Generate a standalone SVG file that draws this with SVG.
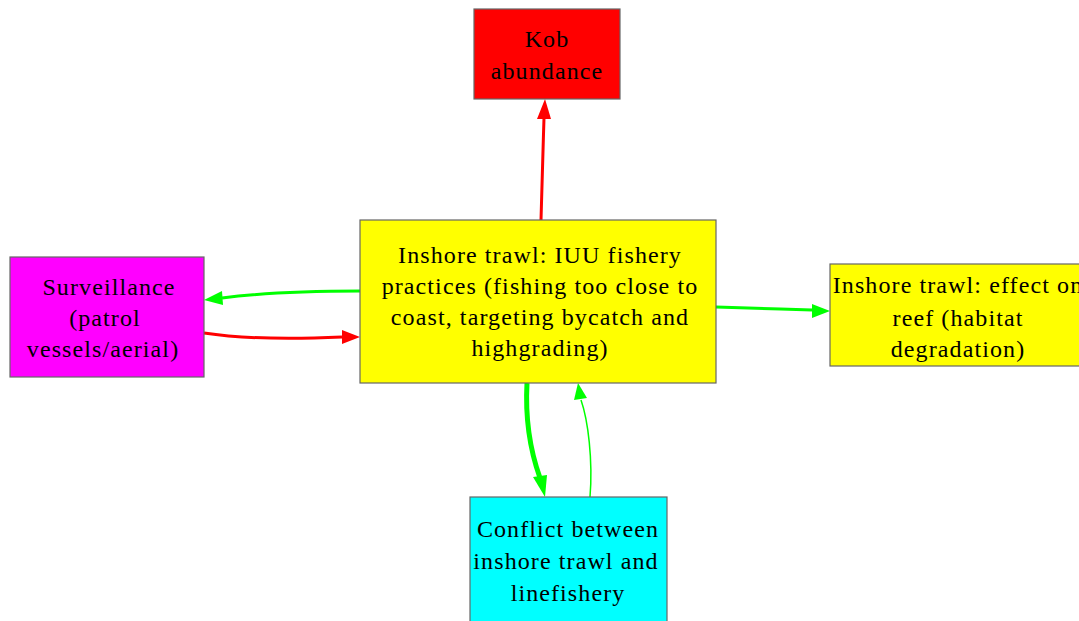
<svg xmlns="http://www.w3.org/2000/svg" width="1079" height="621" viewBox="0 0 1079 621">
<style>
.n{stroke:#666;stroke-width:1.2}
.t{font-family:"Liberation Serif","Times New Roman",serif;font-size:24px;letter-spacing:1.1px;text-anchor:middle;fill:#000}
.e{fill:none}
</style>
<rect width="1079" height="621" fill="#fff"/>
<g id="connectors">
<path class="e" d="M541,220 C542,180 543,150 544,118" stroke="#ff0000" stroke-width="3"/>
<polygon points="545,99 537,119 551,119" fill="#ff0000"/>
<path class="e" d="M360,291 C310,291 260,293 222,298" stroke="#00ff00" stroke-width="3"/>
<polygon points="204,300 222,291 223,305" fill="#00ff00"/>
<path class="e" d="M204,333 C250,340 300,339 342,337" stroke="#ff0000" stroke-width="3"/>
<polygon points="360,337 342,330 342,344" fill="#ff0000"/>
<path class="e" d="M716,307 C750,308 780,309 812,310" stroke="#00ff00" stroke-width="3"/>
<polygon points="830,311 812,304 812,318" fill="#00ff00"/>
<path class="e" d="M527,383 C525,420 530,450 540,478" stroke="#00ff00" stroke-width="5"/>
<polygon points="545,497 533,477 547,475" fill="#00ff00"/>
<path class="e" d="M590,497 C593,460 588,420 581,400" stroke="#00ff00" stroke-width="1.5"/>
<polygon points="578,383 574,400 587,398" fill="#00ff00"/>
</g>
<g id="kob">
<rect class="n" x="474" y="9" width="146" height="90" fill="#ff0000"/>
<text class="t" x="547" y="47">Kob</text>
<text class="t" x="547" y="79">abundance</text>
</g>
<g id="iuu">
<rect class="n" x="360" y="220" width="356" height="163" fill="#ffff00"/>
<text class="t" x="540" y="263">Inshore trawl: IUU fishery</text>
<text class="t" x="540" y="294">practices (fishing too close to</text>
<text class="t" x="540" y="325">coast, targeting bycatch and</text>
<text class="t" x="540" y="356">highgrading)</text>
</g>
<g id="surveillance">
<rect class="n" x="10" y="257" width="194" height="120" fill="#ff00ff"/>
<text class="t" x="109" y="295">Surveillance</text>
<text class="t" x="105" y="326">(patrol</text>
<text class="t" x="103" y="357">vessels/aerial)</text>
</g>
<g id="reef">
<rect class="n" x="830" y="264" width="256" height="102" fill="#ffff00"/>
<text class="t" x="958" y="293">Inshore trawl: effect on</text>
<text class="t" x="958" y="326">reef (habitat</text>
<text class="t" x="958" y="357">degradation)</text>
</g>
<g id="conflict">
<rect class="n" x="470" y="497" width="197" height="130" fill="#00ffff"/>
<text class="t" x="568" y="537">Conflict between</text>
<text class="t" x="566" y="569">inshore trawl and</text>
<text class="t" x="568" y="601">linefishery</text>
</g>
</svg>
